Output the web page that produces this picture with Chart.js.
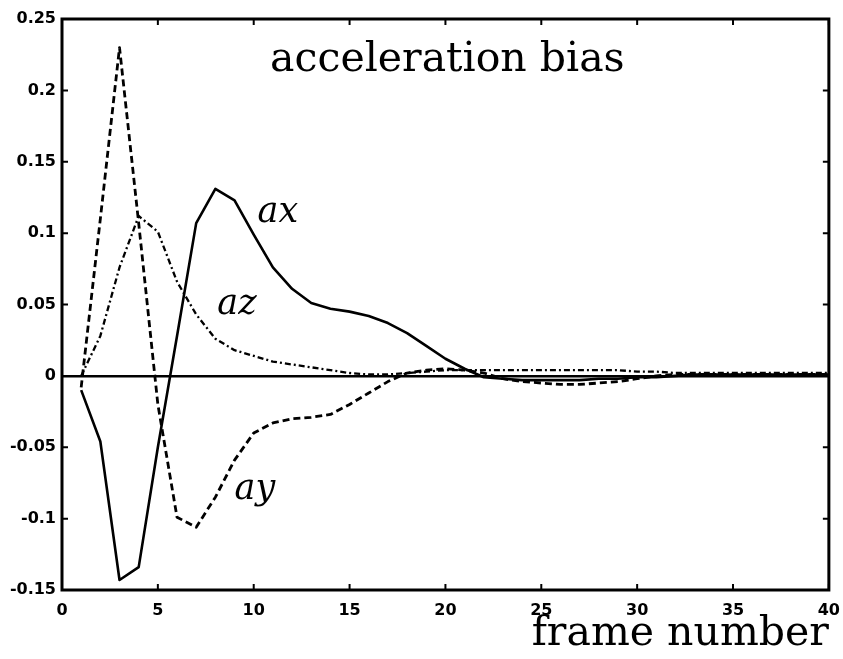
<!DOCTYPE html>
<html>
<head>
<meta charset="utf-8">
<script src="https://cdn.jsdelivr.net/npm/chart.js@4/dist/chart.umd.min.js"></script>
<style>
  body { margin: 0; background: #fff; }
</style>
</head>
<body>
<canvas id="biasChart" width="843" height="659"></canvas>
<script>
// frame numbers and the three bias components
const frames = [1, 2, 3, 4, 5, 6, 7, 8, 9, 10, 11, 12, 13, 14, 15, 16, 17, 18, 19, 20,
                21, 22, 23, 24, 25, 26, 27, 28, 29, 30, 31, 32, 33, 34, 35, 36, 37, 38, 39, 40];

const ax = [-0.010, -0.046, -0.143, -0.134, -0.050, 0.028, 0.107, 0.131, 0.123, 0.099,
            0.076, 0.061, 0.051, 0.047, 0.045, 0.042, 0.037, 0.030, 0.021, 0.012,
            0.005, -0.001, -0.002, -0.003, -0.003, -0.003, -0.003, -0.002, -0.002, -0.001,
            -0.001, 0.000, 0.001, 0.001, 0.001, 0.001, 0.001, 0.001, 0.001, 0.001];

const ay = [-0.008, 0.110, 0.230, 0.107, -0.020, -0.099, -0.106, -0.085, -0.059, -0.040,
            -0.033, -0.030, -0.029, -0.027, -0.020, -0.012, -0.004, 0.002, 0.004, 0.005,
            0.004, 0.002, -0.002, -0.004, -0.005, -0.006, -0.006, -0.005, -0.004, -0.002,
            0.000, 0.001, 0.001, 0.001, 0.001, 0.001, 0.001, 0.001, 0.001, 0.001];

const az = [0.000, 0.028, 0.076, 0.112, 0.101, 0.066, 0.043, 0.026, 0.018, 0.014,
            0.010, 0.008, 0.006, 0.004, 0.002, 0.001, 0.001, 0.002, 0.003, 0.004,
            0.004, 0.004, 0.004, 0.004, 0.004, 0.004, 0.004, 0.004, 0.004, 0.003,
            0.003, 0.002, 0.002, 0.002, 0.002, 0.002, 0.002, 0.002, 0.002, 0.002];

const yTickLabels = ['-0.15', '-0.1', '-0.05', '0', '0.05', '0.1', '0.15', '0.2', '0.25'];
const xTickLabels = ['0', '5', '10', '15', '20', '25', '30', '35', '40'];

// text written inside the axes, placed in data units
const notes = [
  {text: 'acceleration bias', x: 20.1, y: 0.2137, size: 41, italic: false, align: 'center'},
  {text: 'ax', x: 10.2, y: 0.108, size: 35, italic: true, align: 'left'},
  {text: 'az', x: 8.1, y: 0.043, size: 35, italic: true, align: 'left'},
  {text: 'ay', x: 9.0, y: -0.086, size: 35, italic: true, align: 'left'}
];

const toPoints = (vals) => vals.map((v, i) => ({x: frames[i], y: v}));

const tickFont = {family: 'DejaVu Sans', size: 16, weight: 'bold'};

// matlab-like box: frame all round, ticks pointing inwards, and the notes
const boxPlugin = {
  id: 'box',
  afterDraw(chart) {
    const {ctx, chartArea: a, scales: {x, y}} = chart;
    const len = 6;
    ctx.save();
    ctx.strokeStyle = '#000';
    ctx.lineWidth = 2;
    x.ticks.forEach(t => {
      const px = x.getPixelForValue(t.value);
      ctx.beginPath();
      ctx.moveTo(px, a.bottom); ctx.lineTo(px, a.bottom - len);
      ctx.moveTo(px, a.top); ctx.lineTo(px, a.top + len);
      ctx.stroke();
    });
    y.ticks.forEach(t => {
      const py = y.getPixelForValue(t.value);
      ctx.beginPath();
      ctx.moveTo(a.left, py); ctx.lineTo(a.left + len, py);
      ctx.moveTo(a.right, py); ctx.lineTo(a.right - len, py);
      ctx.stroke();
    });
    ctx.lineWidth = 3;
    ctx.strokeRect(a.left, a.top, a.right - a.left, a.bottom - a.top);

    ctx.fillStyle = '#000';
    ctx.textBaseline = 'alphabetic';
    notes.forEach(n => {
      ctx.font = (n.italic ? 'italic ' : '') + n.size + 'px "DejaVu Serif"';
      ctx.textAlign = n.align;
      ctx.fillText(n.text, x.getPixelForValue(n.x), y.getPixelForValue(n.y));
    });
    ctx.restore();
  }
};

const data = {
  datasets: [{
    label: 'ax',
    data: toPoints(ax),
    borderColor: '#000',
    borderWidth: 2.6
  }, {
    label: 'ay',
    data: toPoints(ay),
    borderColor: '#000',
    borderWidth: 2.8,
    borderDash: [7, 4]
  }, {
    label: 'az',
    data: toPoints(az),
    borderColor: '#000',
    borderWidth: 2.3,
    borderDash: [6, 3, 2, 3]
  }]
};

const config = {
  type: 'line',
  data: data,
  options: {
    responsive: false,
    animation: false,
    layout: {padding: {top: 19, right: 11, left: 0, bottom: 0}},
    elements: {point: {radius: 0}, line: {tension: 0, borderJoinStyle: 'round'}},
    plugins: {legend: {display: false}, tooltip: {enabled: false}},
    scales: {
      x: {
        type: 'linear',
        min: 0,
        max: 40,
        afterFit: s => { s.height = 69; },
        grid: {display: false},
        border: {display: false},
        ticks: {
          stepSize: 5,
          autoSkip: false,
          maxRotation: 0,
          padding: 3,
          color: '#000',
          font: tickFont,
          callback: (v, i) => xTickLabels[i]
        },
        title: {
          display: true,
          text: 'frame number',
          align: 'end',
          color: '#000',
          font: {family: 'DejaVu Serif', size: 41},
          padding: {top: 0, bottom: 0}
        }
      },
      y: {
        type: 'linear',
        min: -0.15,
        max: 0.25,
        afterFit: s => { s.width = 62; },
        border: {display: false},
        grid: {
          drawTicks: false,
          lineWidth: 2.5,
          color: c => Math.abs(c.tick.value) < 1e-9 ? '#000' : 'rgba(0,0,0,0)'
        },
        ticks: {
          stepSize: 0.05,
          padding: 6,
          color: '#000',
          font: tickFont,
          callback: (v, i) => yTickLabels[i]
        }
      }
    }
  },
  plugins: [boxPlugin]
};

const chart = new Chart(document.getElementById('biasChart').getContext('2d'), config);
</script>
</body>
</html>
